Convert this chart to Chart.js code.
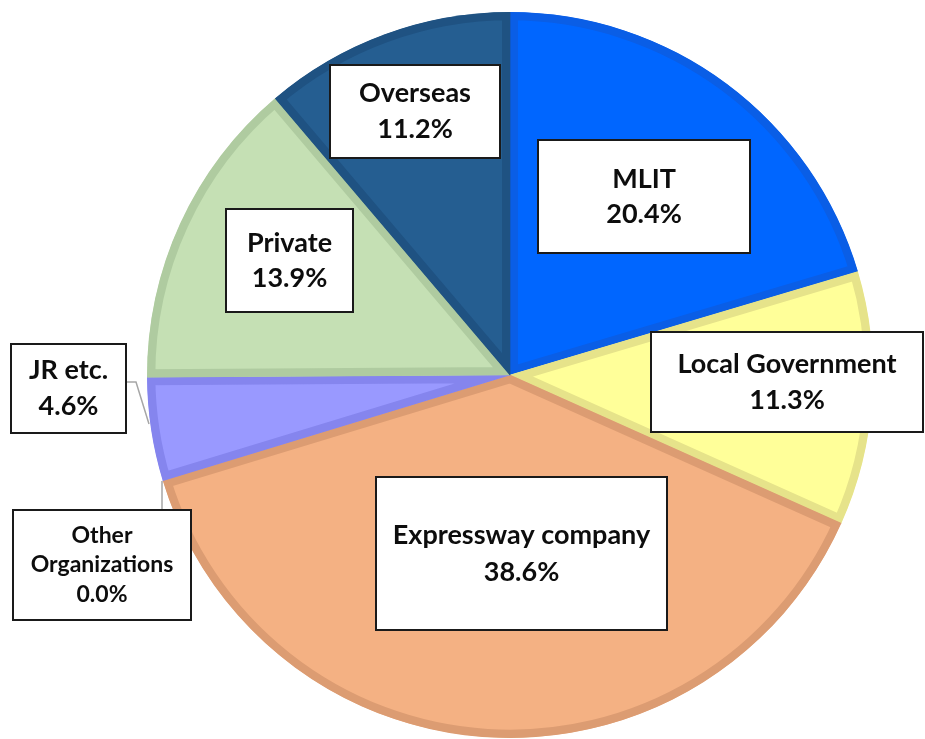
<!DOCTYPE html>
<html lang="en">
<head>
    <meta charset="UTF-8">
    <title>Share by client</title>
    <style>
        body {
            margin: 0;
            padding: 0;
            background: #fff;
        }
        #pieChart {
            display: block;
        }
    </style>
</head>
<body>
    <canvas id="pieChart" width="925" height="739"></canvas>

    <script src="https://cdn.jsdelivr.net/npm/chart.js"></script>
    <script>
        // Data (percent)
        const categories = ['MLIT', 'Local Government', 'Expressway company', 'Other Organizations', 'JR etc.', 'Private', 'Overseas'];
        const shares = [20.4, 11.3, 38.6, 0.0, 4.6, 13.9, 11.2];

        const fillColors = ['#0066ff', '#ffff99', '#f4b183', '#a5a5a5', '#9999ff', '#c5e0b4', '#255e91'];
        const edgeColors = ['#0a5ee6', '#e6e38a', '#dc9c72', '#8f8f8f', '#8585ee', '#afcba0', '#1f5282'];

        // Label boxes: x, y, w, h (one per category)
        const boxes = [
            { x: 538, y: 140, w: 212, h: 113, size: 27, lh: 35 },
            { x: 651, y: 332, w: 272, h: 100, size: 27, lh: 36 },
            { x: 376, y: 477, w: 291, h: 153, size: 27, lh: 37 },
            { x: 13, y: 510, w: 178, h: 110, size: 23, lh: 29.5, wrap: true, leader: [[162, 510], [162, 481]] },
            { x: 11, y: 344, w: 115, h: 89, size: 27, lh: 36, leader: [[126, 382], [136, 382], [149, 424]] },
            { x: 226, y: 209, w: 127, h: 103, size: 27, lh: 35 },
            { x: 330, y: 65, w: 170, h: 93, size: 27, lh: 36 }
        ];

        const labelBoxes = {
            id: 'labelBoxes',
            afterDatasetsDraw(chart) {
                const ctx = chart.ctx;
                ctx.save();
                boxes.forEach((b, i) => {
                    if (b.leader) {
                        ctx.strokeStyle = '#a6a6a6';
                        ctx.lineWidth = 1.5;
                        ctx.beginPath();
                        b.leader.forEach((p, k) => k ? ctx.lineTo(p[0], p[1]) : ctx.moveTo(p[0], p[1]));
                        ctx.stroke();
                    }
                    ctx.fillStyle = '#fff';
                    ctx.fillRect(b.x, b.y, b.w, b.h);
                    ctx.strokeStyle = '#1a1a1a';
                    ctx.lineWidth = 2;
                    ctx.strokeRect(b.x, b.y, b.w, b.h);

                    const lines = b.wrap ? categories[i].split(' ') : [categories[i]];
                    lines.push(shares[i].toFixed(1) + '%');
                    const cx = b.x + b.w / 2;
                    const top = b.y + b.h / 2 - b.lh * (lines.length - 1) / 2;
                    ctx.fillStyle = '#0d0d0d';
                    ctx.font = 'bold ' + b.size + 'px Lato, "Open Sans", sans-serif';
                    ctx.textAlign = 'center';
                    ctx.textBaseline = 'middle';
                    lines.forEach((t, k) => ctx.fillText(t, cx, top + k * b.lh));
                });
                ctx.restore();
            }
        };

        new Chart(document.getElementById('pieChart'), {
            type: 'pie',
            data: {
                labels: categories,
                datasets: [{
                    data: shares,
                    backgroundColor: fillColors,
                    borderColor: edgeColors,
                    borderWidth: 8,
                    borderAlign: 'inner',
                    hoverOffset: 0
                }]
            },
            options: {
                responsive: false,
                animation: false,
                devicePixelRatio: 1,
                radius: 363,
                layout: { padding: { left: 95, top: 11 } },
                plugins: {
                    legend: { display: false },
                    tooltip: { enabled: false }
                }
            },
            plugins: [labelBoxes]
        });
    </script>
</body>
</html>
